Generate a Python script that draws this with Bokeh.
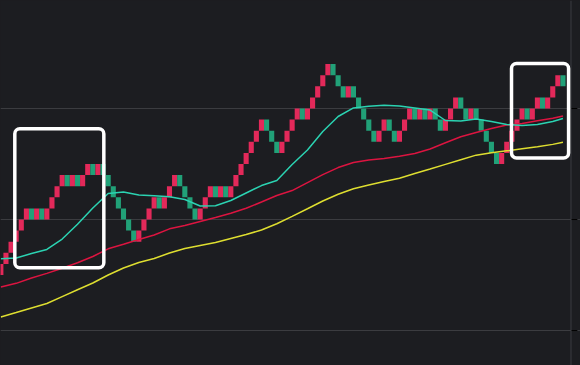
from bokeh.plotting import figure
from bokeh.models import Range1d, FixedTicker, Span, BoxAnnotation, ColumnDataSource, Grid
from bokeh.embed import file_html
from bokeh.resources import INLINE
from jinja2 import Template

# ---------------- data ----------------
box_size = 10
base_price = 2200

# brick level (in boxes above base) for each renko brick, left to right
brick_levels = [-5, -4, -3, -2, -1, 0, 0, 0, 0, 0,
                1, 2, 3, 3, 3, 3, 3, 4, 4, 4,
                4, 3, 2, 1, 0, -1, -2, -2, -1, 0,
                1, 1, 1, 2, 3, 3, 2, 1, 0, 0,
                1, 2, 2, 2, 2, 2, 3, 4, 5, 6,
                7, 8, 8, 7, 6, 6, 7, 8, 9, 9,
                9, 10, 11, 12, 13, 13, 12, 11, 11, 11,
                10, 9, 8, 7, 7, 8, 8, 7, 7, 8,
                9, 9, 9, 9, 9, 9, 8, 8, 9, 10,
                10, 9, 9, 9, 8, 7, 6, 5, 5, 6,
                7, 8, 9, 9, 9, 10, 10, 10, 11, 12,
                12]

# brick colour: R = red, G = green
brick_kind = list(
    "RRRRRRGRGR"
    "RRRGRGRRGR"
    "GGGGGGGRRR"
    "RGRRRGGGGR"
    "RRGRGRRRRR"
    "RRGGGRRRRG"
    "RRRRRGGGRG"
    "GGGGRRGGRR"
    "RGRGRGGRRR"
    "GGRGGGGGRR"
    "RRRGRRGRRR"
    "G"
)

# moving averages sampled at brick indices
ma_index = [0, 3, 6, 9, 12, 15, 18, 21, 24, 27, 30, 33, 36, 39, 42, 45, 48, 51, 54,
            57, 60, 63, 66, 69, 72, 75, 78, 81, 84, 87, 90, 93, 96, 99, 102, 105, 108, 110]
ma_fast = [2164.6, 2165.3, 2169.4, 2173.0, 2182.4, 2195.7, 2210.4, 2223.4, 2224.8, 2222.1,
           2221.4, 2220.5, 2218.0, 2212.2, 2212.4, 2217.1, 2223.9, 2230.6, 2235.1, 2249.5,
           2262.6, 2279.3, 2292.8, 2300.5, 2302.0, 2302.9, 2302.3, 2300.5, 2298.6, 2289.2,
           2288.7, 2290.5, 2288.3, 2285.6, 2284.7, 2285.6, 2288.3, 2291.0]
ma_mid = [2139.2, 2142.5, 2147.3, 2151.5, 2156.1, 2161.0, 2166.7, 2173.6, 2177.7, 2182.0,
          2186.0, 2191.6, 2194.6, 2198.2, 2201.8, 2205.6, 2210.1, 2215.8, 2221.6, 2226.1,
          2233.3, 2240.5, 2246.8, 2251.4, 2253.6, 2255.0, 2257.0, 2259.5, 2263.5, 2269.1,
          2274.5, 2278.4, 2282.0, 2285.1, 2286.5, 2288.9, 2291.2, 2293.2]
ma_slow = [2112.2, 2116.2, 2120.3, 2124.3, 2130.6, 2136.7, 2142.8, 2150.0, 2156.3, 2161.3,
           2164.9, 2169.8, 2173.9, 2176.6, 2179.3, 2182.9, 2186.5, 2190.5, 2196.2, 2202.9,
           2209.7, 2216.7, 2222.8, 2227.7, 2231.1, 2234.2, 2237.2, 2241.4, 2245.5, 2249.7,
           2253.9, 2258.0, 2260.1, 2261.9, 2263.7, 2265.5, 2267.7, 2269.6]

grid_prices = [2100, 2200, 2300]

# highlighted zones (brick index, price)
zone_left = [3.23, 100.43]
zone_right = [20.65, 111.6]
zone_bottom = [2156.5, 2255.4]
zone_top = [2281.7, 2340.5]

# ---------------- styling ----------------
bg = "#1c1d21"
grid_col = "#3b3c40"
red = "#e3295a"
green = "#21a178"
col_fast = "#2bd3b2"
col_mid = "#dc1440"
col_slow = "#dede30"
scale_x = 112.07      # position of the price-scale border (in brick units)
tick_len = 1.25       # length of the scale tick marks (in brick units)

n = len(brick_levels)
src = ColumnDataSource(dict(
    left=[i for i in range(n)],
    right=[i + 1 for i in range(n)],
    bottom=[base_price + l * box_size for l in brick_levels],
    top=[base_price + (l + 1) * box_size for l in brick_levels],
    color=[red if k == "R" else green for k in brick_kind],
))

p = figure(width=580, height=365,
           x_range=Range1d(0.4305, 113.93), y_range=Range1d(2068.5, 2397.3),
           output_backend="svg", toolbar_location=None,
           x_axis_location=None, y_axis_location=None,
           min_border=0, background_fill_color=bg, border_fill_color=bg,
           outline_line_color=None)
p.grid.visible = False
p.add_layout(Grid(dimension=1, ticker=FixedTicker(ticks=grid_prices),
                  grid_line_color=grid_col, grid_line_width=1))

# right price-scale border and its tick marks
p.add_layout(Span(location=scale_x, dimension="height", line_color=grid_col, line_width=1))
p.segment(x0=[scale_x] * len(grid_prices), y0=grid_prices,
          x1=[scale_x + tick_len] * len(grid_prices), y1=grid_prices,
          line_color="#000000", line_width=1)

p.quad(left="left", right="right", bottom="bottom", top="top", fill_color="color",
       line_color=None, source=src)

xc = [i + 0.5 for i in ma_index]
p.line(xc, ma_slow, line_color=col_slow, line_width=1.5)
p.line(xc, ma_mid, line_color=col_mid, line_width=1.5)
p.line(xc, ma_fast, line_color=col_fast, line_width=1.5)

for l, r, b, t in zip(zone_left, zone_right, zone_bottom, zone_top):
    p.add_layout(BoxAnnotation(left=l, right=r, bottom=b, top=t, fill_color=None,
                               fill_alpha=0, line_color="white", line_alpha=1,
                               line_width=3.5, border_radius=5))

tmpl = Template("""{% extends base %}
{% block postamble %}<style>html, body { background: #1c1d21; }</style>{% endblock %}""")

open("out.html", "w").write(file_html(p, INLINE, template=tmpl))
